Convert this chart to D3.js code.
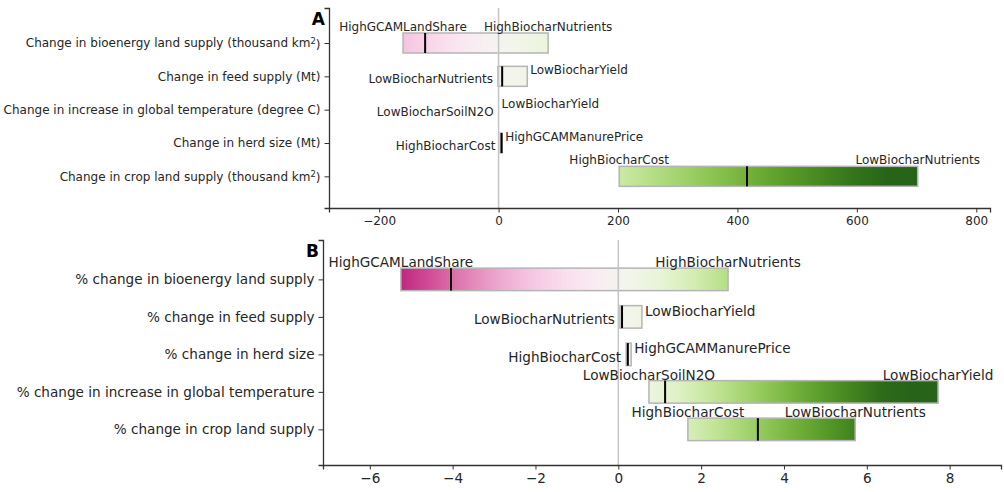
<!DOCTYPE html>
<html lang="en">
<head>
<meta charset="UTF-8">
<title>Sensitivity bars</title>
<script src="https://d3js.org/d3.v7.min.js"></script>
<style>
    body { margin: 0; background: white; }
    svg { font-family: "DejaVu Sans", sans-serif; }
    .axis text { fill: #262626; }
    .axis path, .axis line { stroke: #333; }
</style>
</head>
<body>
<svg width="1004" height="492"></svg>
<script>
    // panel A: absolute changes
    const catsA = ["Change in bioenergy land supply (thousand km^2)", "Change in feed supply (Mt)",
        "Change in increase in global temperature (degree C)", "Change in herd size (Mt)",
        "Change in crop land supply (thousand km^2)"];
    const lowA = [-160, -1, 0, 3, 202];
    const highA = [83, 48, 0, 6, 702];
    const medA = [-123, 6, null, 5, 416];
    const lowNamesA = ["HighGCAMLandShare", "LowBiocharNutrients", "LowBiocharSoilN2O", "HighBiocharCost", "HighBiocharCost"];
    const highNamesA = ["HighBiocharNutrients", "LowBiocharYield", "LowBiocharYield", "HighGCAMManurePrice", "LowBiocharNutrients"];
    const modeA = ["top", "side", "side", "side", "top"];
    const ticksA = [-200, 0, 200, 400, 600, 800];

    // panel B: percent changes
    const catsB = ["% change in bioenergy land supply", "% change in feed supply", "% change in herd size",
        "% change in increase in global temperature", "% change in crop land supply"];
    const lowB = [-5.25, 0.04, 0.19, 0.74, 1.68];
    const highB = [2.65, 0.57, 0.31, 7.72, 5.72];
    const medB = [-4.04, 0.09, 0.23, 1.13, 3.37];
    const lowNamesB = ["HighGCAMLandShare", "LowBiocharNutrients", "HighBiocharCost", "LowBiocharSoilN2O", "HighBiocharCost"];
    const highNamesB = ["HighBiocharNutrients", "LowBiocharYield", "HighGCAMManurePrice", "LowBiocharYield", "LowBiocharNutrients"];
    const modeB = ["top", "side", "side", "top", "top"];
    const ticksB = [-6, -4, -2, 0, 2, 4, 6, 8];

    const svg = d3.select("svg");
    const defs = svg.append("defs");
    let gradId = 0;

    function panel(opt) {
        const x = d3.scaleLinear().domain(opt.xDomain).range([opt.left, opt.right]);
        const y = d3.scaleLinear().domain([-1.05, 4.95]).range([opt.top, opt.bottom]);
        const color = d3.scaleDiverging(opt.cdom, d3.interpolatePiYG).clamp(true);
        const bh = (y(0.3) - y(-0.3));
        const g = svg.append("g");

        // bars with gradient fill
        opt.cats.forEach(function (c, i) {
            if (opt.high[i] - opt.low[i] <= 0) return;
            const id = "grad" + (gradId++);
            const grad = defs.append("linearGradient").attr("id", id)
                .attr("x1", "0%").attr("x2", "100%").attr("y1", "0%").attr("y2", "0%");
            d3.range(0, 1.0001, 0.1).forEach(function (t) {
                const v = opt.low[i] + t * (opt.high[i] - opt.low[i]);
                grad.append("stop").attr("offset", (t * 100) + "%").attr("stop-color", color(v));
            });
            g.append("rect")
                .attr("x", x(opt.low[i]))
                .attr("y", y(i) - bh / 2)
                .attr("width", x(opt.high[i]) - x(opt.low[i]))
                .attr("height", bh)
                .attr("fill", "url(#" + id + ")")
                .attr("stroke", "#b5b5b5")
                .attr("stroke-width", 1.5);
        });

        // zero line
        g.append("line")
            .attr("x1", x(0)).attr("x2", x(0))
            .attr("y1", opt.top).attr("y2", opt.bottom)
            .attr("stroke", "#c4c4c4").attr("stroke-width", 1.5);

        // median markers
        g.selectAll(".med").data(opt.med.map((d, i) => ({ v: d, i: i })).filter(d => d.v !== null))
            .enter().append("line")
            .attr("x1", d => x(d.v)).attr("x2", d => x(d.v))
            .attr("y1", d => y(d.i) - bh / 2).attr("y2", d => y(d.i) + bh / 2)
            .attr("stroke", "black").attr("stroke-width", 2);

        // end labels
        opt.cats.forEach(function (c, i) {
            const lab = g.append("g").attr("font-size", opt.fs).attr("fill", "#262626");
            if (opt.mode[i] === "top") {
                lab.append("text").attr("x", x(opt.low[i])).attr("y", y(i) - bh / 2 - 6)
                    .attr("text-anchor", "middle").attr("dominant-baseline", "central").text(opt.lowNames[i]);
                lab.append("text").attr("x", x(opt.high[i])).attr("y", y(i) - bh / 2 - 6)
                    .attr("text-anchor", "middle").attr("dominant-baseline", "central").text(opt.highNames[i]);
            } else {
                lab.append("text").attr("x", x(opt.low[i]) - 5).attr("y", y(i) + 2.5)
                    .attr("text-anchor", "end").attr("dominant-baseline", "central").text(opt.lowNames[i]);
                lab.append("text").attr("x", x(opt.high[i]) + 3).attr("y", y(i) - 6)
                    .attr("text-anchor", "start").attr("dominant-baseline", "central").text(opt.highNames[i]);
            }
        });

        // axes
        const ax = svg.append("g").attr("class", "axis")
            .attr("transform", "translate(0," + opt.bottom + ")")
            .call(d3.axisBottom(x).tickValues(opt.ticks).tickSizeOuter(0).tickSize(4.5).tickPadding(4)
                .tickFormat(d => d3.format("")(d).replace("-", "\u2212")));
        ax.attr("font-family", null).attr("font-size", opt.fs);
        ax.select(".domain").attr("stroke-width", 1.3);

        const ay = svg.append("g").attr("class", "axis")
            .attr("transform", "translate(" + opt.left + ",0)")
            .call(d3.axisLeft(y).tickValues(d3.range(opt.cats.length)).tickSizeOuter(0).tickSize(4.5).tickPadding(4)
                .tickFormat(i => opt.cats[i]));
        ay.attr("font-family", null).attr("font-size", opt.fs);
        ay.select(".domain").attr("stroke-width", 1.3);
        ay.selectAll(".tick text").each(function (i) {
            const t = opt.cats[i];
            if (t.indexOf("^2") < 0) return;
            const parts = t.split("^2");
            const el = d3.select(this).text(null);
            el.append("tspan").text(parts[0]);
            el.append("tspan").attr("dy", "-0.4em").attr("font-size", "0.7em").text("2");
            el.append("tspan").attr("dy", "0.4em").text(parts[1]);
        });

        svg.append("text").attr("x", opt.left - 4).attr("y", opt.top + 17)
            .attr("text-anchor", "end").attr("font-weight", "bold").attr("font-size", 17)
            .attr("fill", "black").text(opt.letter);
    }

    panel({
        cats: catsA, low: lowA, high: highA, med: medA, lowNames: lowNamesA, highNames: highNamesA,
        mode: modeA, ticks: ticksA, xDomain: [-284, 823], left: 329, right: 990, top: 8, bottom: 208,
        cdom: [-480, 0, 640], fs: 12, letter: "A"
    });
    panel({
        cats: catsB, low: lowB, high: highB, med: medB, lowNames: lowNamesB, highNames: highNamesB,
        mode: modeB, ticks: ticksB, xDomain: [-7.13, 9.24], left: 323, right: 1001, top: 240, bottom: 465,
        cdom: [-6.56, 0, 6.56], fs: 13.6, letter: "B"
    });
</script>
</body>
</html>
